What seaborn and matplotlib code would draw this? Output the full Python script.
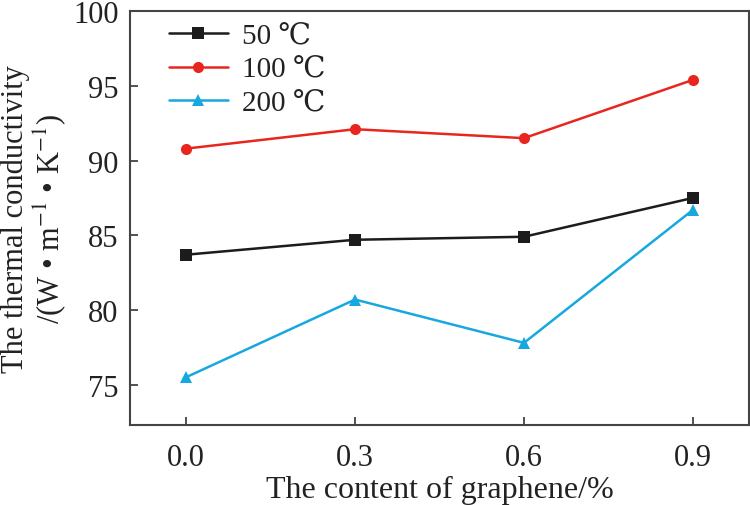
import pandas as pd
import numpy as np
import seaborn as sns
import matplotlib.pyplot as plt

content = [0.0, 0.3, 0.6, 0.9]
k_50 = [83.7, 84.7, 84.9, 87.5]
k_100 = [90.8, 92.1, 91.5, 95.4]
k_200 = [75.5, 80.7, 77.8, 86.7]
labels = ["50 ℃", "100 ℃", "200 ℃"]

df = pd.DataFrame({
    "x": content * 3,
    "y": k_50 + k_100 + k_200,
    "temp": np.repeat(labels, len(content)),
})

sns.set_style("ticks")
plt.rcParams["font.family"] = ["Liberation Serif", "DejaVu Serif"]
plt.rcParams["mathtext.fontset"] = "stix"

fig = plt.figure(figsize=(7.5, 5.06), dpi=100)
ax = fig.add_axes([0.173, 0.158, 0.826, 0.818])

palette = {"50 ℃": "#1c1c1c", "100 ℃": "#e8261f", "200 ℃": "#17a8e0"}
markers = {"50 ℃": "s", "100 ℃": "o", "200 ℃": "^"}
sns.lineplot(data=df, x="x", y="y", hue="temp", style="temp",
             palette=palette, markers=markers, dashes=False,
             markersize=8, linewidth=1.8, markeredgewidth=0, ax=ax)

ax.set_xlim(-0.1, 1.0)
ax.set_ylim(72.3, 100)
ax.set_xticks(content)
ax.set_xticklabels(["0.0", "0.3", "0.6", "0.9"])
ax.set_yticks([75, 80, 85, 90, 95, 100])
ax.tick_params(direction="in", length=6, width=1.2, labelsize=22,
               colors="#333333", labelcolor="#222222")
ax.tick_params(axis="x", pad=13)
ax.tick_params(axis="y", pad=8)
for s in ax.spines.values():
    s.set_color("#444444")
    s.set_linewidth(1.5)

ax.set_xlabel("The content of graphene/%", fontsize=23, color="#222222", labelpad=2)
ax.set_ylabel("The thermal conductivity\n/(W • m$^{-1}$ • K$^{-1}$)",
              fontsize=22, color="#222222", linespacing=1.05, labelpad=4)

leg = ax.legend(loc="upper left", frameon=False, fontsize=21,
                handlelength=2.0, labelspacing=0.25, borderaxespad=0.0,
                handletextpad=0.5, bbox_to_anchor=(0.045, 1.0))
for t in leg.get_texts():
    t.set_color("#222222")

fig.savefig("out.png", dpi=100)
